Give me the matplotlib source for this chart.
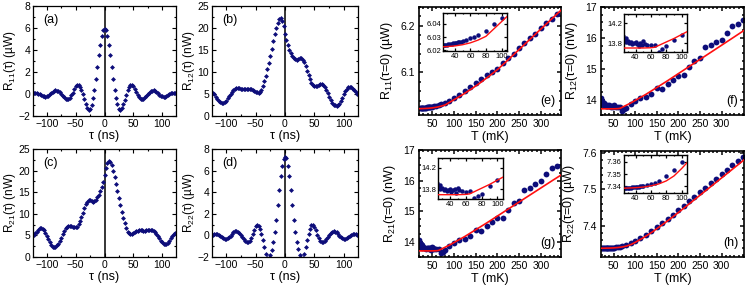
import numpy as np
import matplotlib
matplotlib.use("Agg")
import matplotlib.pyplot as plt
from matplotlib.ticker import MultipleLocator

plt.rcParams['font.family'] = ['Liberation Sans', 'DejaVu Sans']
plt.rcParams['mathtext.fontset'] = 'custom'
plt.rcParams['mathtext.rm'] = 'Liberation Sans'
plt.rcParams['mathtext.it'] = 'Liberation Sans:italic'

# ---------------- data: correlation functions vs tau (ns) ----------------
tau = np.arange(-122.5, 122.6, 2.5)

R11_tau = [0.12, 0.12, 0.09, 0.04, -0.03, -0.1, -0.17, -0.22, -0.24, -0.21, -0.14, -0.04, 0.08, 0.19, 0.28,
           0.32, 0.31, 0.25, 0.14, 0.01, -0.14, -0.29, -0.42, -0.47, -0.44, -0.32, -0.12, 0.13, 0.43, 0.69,
           0.82, 0.8, 0.66, 0.37, -0.03, -0.48, -0.93, -1.28, -1.46, -1.37, -0.98, -0.38, 0.38, 1.33, 2.43,
           3.53, 4.5, 5.28, 5.82,
           5.9,
           5.8, 5.3, 4.5, 3.55, 2.45, 1.35, 0.4, -0.35, -0.95, -1.35, -1.45, -1.3, -0.95, -0.5, -0.05,
           0.35, 0.65, 0.8, 0.82, 0.7, 0.45, 0.15, -0.1, -0.3, -0.43, -0.47, -0.43, -0.3, -0.15, 0.0,
           0.13, 0.24, 0.31, 0.33, 0.3, 0.2, 0.08, -0.05, -0.15, -0.22, -0.25, -0.23, -0.16, -0.07, 0.02,
           0.08, 0.11, 0.12, 0.1]

R12_tau = [5.3, 4.9, 4.4, 3.9, 3.5, 3.2, 3.0, 3.0, 3.2, 3.5, 4.0, 4.5, 5.0, 5.5, 5.9, 6.2, 6.35, 6.4, 6.35,
           6.25, 6.15, 6.1, 6.1, 6.15, 6.2, 6.2, 6.1, 5.95, 5.75, 5.5, 5.35, 5.3, 5.5, 6.0, 6.8, 7.9, 9.2,
           10.6, 12.1, 13.7, 15.3, 17.0, 18.6, 20.0, 21.2, 22.0, 22.2, 21.6, 20.4, 18.7,
           17.3, 16.1, 15.1, 14.3, 13.7, 13.2, 12.9, 12.8, 12.9, 13.1, 13.1, 12.8, 12.2, 11.3, 10.3, 9.3,
           8.4, 7.6, 7.0, 6.8, 6.8, 6.9, 7.1, 7.2, 7.2, 7.0, 6.6, 6.0, 5.2, 4.4, 3.6, 3.0, 2.6, 2.4, 2.3,
           2.4, 2.8, 3.4, 4.1, 4.9, 5.6, 6.2, 6.5, 6.6, 6.5, 6.2, 5.8, 5.4, 5.0]

R21_tau = [5.1, 5.5, 5.9, 6.3, 6.6, 6.7, 6.55, 6.2, 5.6, 4.9, 4.1, 3.4, 2.8, 2.4, 2.3, 2.4, 2.7, 3.1, 3.7,
           4.5, 5.3, 6.0, 6.6, 7.0, 7.15, 7.2, 7.1, 6.95, 6.85, 6.85, 7.05, 7.6, 8.4, 9.3, 10.3, 11.3,
           12.2, 12.8, 13.1, 13.15, 12.95, 12.8, 12.95, 13.3, 13.8, 14.4, 15.2, 16.2, 17.4, 18.9, 20.5,
           21.7, 22.3, 22.0, 21.2, 20.0, 18.5, 16.9, 15.2, 13.6, 12.0, 10.5, 9.1, 7.8, 6.7, 5.9, 5.45,
           5.3, 5.4, 5.6, 5.8, 6.0, 6.1, 6.15, 6.2, 6.15, 6.1, 6.1, 6.2, 6.3, 6.35, 6.35, 6.25, 6.0, 5.7,
           5.25, 4.8, 4.3, 3.8, 3.4, 3.1, 2.95, 3.05, 3.35, 3.8, 4.3, 4.8, 5.3, 5.6]

R22_tau = [0.07, 0.12, 0.14, 0.12, 0.07, -0.02, -0.13, -0.23, -0.29, -0.3, -0.24, -0.14, -0.01, 0.14, 0.28,
           0.37, 0.39, 0.34, 0.24, 0.07, -0.14, -0.36, -0.54, -0.63, -0.61, -0.49, -0.26, 0.09, 0.49, 0.83,
           0.99, 0.91, 0.59, 0.14, -0.46, -1.12, -1.72, -2.07, -2.12, -1.82, -1.31, -0.62, 0.28, 1.43, 2.78,
           4.18, 5.48, 6.43, 7.12,
           7.25,
           7.15, 6.45, 5.5, 4.2, 2.8, 1.45, 0.3, -0.6, -1.3, -1.8, -2.1, -2.05, -1.7, -1.1, -0.45,
           0.15, 0.6, 0.92, 0.98, 0.82, 0.48, 0.08, -0.27, -0.5, -0.62, -0.63, -0.53, -0.35, -0.13, 0.08,
           0.25, 0.35, 0.39, 0.36, 0.27, 0.13, -0.02, -0.15, -0.25, -0.3, -0.29, -0.22, -0.12, -0.01, 0.08,
           0.13, 0.14, 0.11, 0.06]

# ---------------- data: zero-delay correlations vs temperature (mK) ----------------
T_e = [22, 24, 26, 28, 30, 32, 34, 36, 38, 40, 42, 44, 46, 48, 50, 55, 60, 65, 70, 80, 90, 100,
       112, 125, 137, 150, 162, 175, 187, 200, 212, 225, 237, 250, 262, 275, 287, 300, 312, 325, 337]
R11_T = [6.0235, 6.0237, 6.0239, 6.0241, 6.0243, 6.0245, 6.0247, 6.0249, 6.0252, 6.0254, 6.0257, 6.026,
         6.0263, 6.0266, 6.027, 6.0278, 6.029, 6.0302, 6.0318, 6.0345, 6.0395, 6.0445,
         6.052, 6.06, 6.068, 6.077, 6.086, 6.094, 6.101, 6.108, 6.12, 6.13, 6.14, 6.152, 6.162, 6.173,
         6.183, 6.195, 6.206, 6.215, 6.226]
Tfit_e = [20, 30, 40, 50, 60, 70, 80, 90, 100, 120, 140, 160, 180, 200, 220, 240, 260, 280, 300, 320, 346]
R11_fit = [6.0225, 6.0228, 6.0233, 6.0242, 6.0256, 6.0277, 6.0305, 6.036, 6.0415, 6.0525, 6.0645,
           6.0775, 6.0915, 6.106, 6.123, 6.1405, 6.158, 6.1755, 6.193, 6.2105, 6.233]

T_f = [21, 22, 23, 24, 25, 26, 27, 28, 30, 32, 34, 36, 38, 40, 42, 44, 46, 48, 50, 52, 55, 60, 65, 70,
       75, 80, 90, 100, 112, 125, 137, 150, 162, 175, 187, 200, 212, 225, 237, 250, 262, 275, 287, 300,
       312, 325, 337, 349]
R12_T = [14.05, 13.98, 13.92, 13.95, 13.88, 13.85, 13.9, 13.82, 13.84, 13.8, 13.82, 13.78, 13.8, 13.82,
         13.78, 13.75, 13.8, 13.76, 13.84, 13.79, 13.77, 13.76, 13.76, 13.62, 13.68, 13.74, 13.86, 13.96,
         14.06, 14.08, 14.17, 14.36, 14.33, 14.51, 14.64, 14.78, 14.79, 15.05, 15.26, 15.35, 15.69,
         15.77, 15.86, 15.94, 16.17, 16.39, 16.45, 16.57]
Tfit_f = [20, 30, 40, 50, 60, 65, 70, 80, 90, 100, 125, 150, 175, 200, 225, 250, 275, 300, 325, 352]
R12_fit = [13.7, 13.7, 13.7, 13.7, 13.705, 13.715, 13.75, 13.82, 13.89, 13.97, 14.17, 14.39, 14.61,
           14.84, 15.07, 15.3, 15.53, 15.76, 15.99, 16.24]

T_g = [21, 22, 23, 24, 25, 26, 27, 28, 30, 32, 34, 36, 38, 40, 42, 44, 46, 48, 50, 52, 55, 60, 65, 70,
       75, 80, 90, 100, 112, 125, 137, 150, 162, 175, 187, 200, 212, 225, 237, 250, 262, 275, 287, 300,
       312, 325, 337]
R21_T = [14.05, 13.95, 13.9, 13.92, 13.85, 13.82, 13.88, 13.8, 13.83, 13.78, 13.8, 13.76, 13.79, 13.8,
         13.75, 13.78, 13.8, 13.74, 13.82, 13.78, 13.76, 13.75, 13.77, 13.64, 13.67, 13.72, 13.86, 13.97,
         14.07, 14.08, 14.18, 14.38, 14.36, 14.51, 14.65, 14.78, 14.79, 15.05, 15.27, 15.34, 15.68,
         15.77, 15.9, 15.98, 16.22, 16.42, 16.49]
Tfit_g = [20, 30, 40, 50, 60, 65, 70, 80, 90, 100, 125, 150, 175, 200, 225, 250, 275, 300, 325, 346]
R21_fit = [13.7, 13.7, 13.7, 13.7, 13.705, 13.715, 13.75, 13.82, 13.89, 13.97, 14.17, 14.39, 14.61,
           14.84, 15.07, 15.3, 15.53, 15.76, 15.99, 16.18]

T_h = [22, 24, 26, 28, 30, 32, 34, 36, 38, 40, 42, 44, 46, 48, 50, 55, 60, 65, 70, 80, 90, 100,
       112, 125, 137, 150, 162, 175, 187, 200, 212, 225, 237, 250, 262, 275, 287, 300, 312, 325, 337, 349]
R22_T = [7.3385, 7.3386, 7.3387, 7.3388, 7.3389, 7.339, 7.3391, 7.3392, 7.3393, 7.3395, 7.3396, 7.3398,
         7.34, 7.3402, 7.3404, 7.3412, 7.342, 7.3432, 7.3447, 7.3487, 7.3535, 7.3595,
         7.366, 7.376, 7.386, 7.397, 7.408, 7.42, 7.431, 7.444, 7.455, 7.468, 7.48, 7.492, 7.504, 7.517,
         7.529, 7.542, 7.553, 7.566, 7.578, 7.589]
Tfit_h = [20, 30, 40, 50, 60, 70, 80, 90, 100, 120, 140, 160, 180, 200, 220, 240, 260, 280, 300, 320,
          340, 355]
R22_fit = [7.3385, 7.3387, 7.339, 7.3395, 7.3405, 7.342, 7.3445, 7.3485, 7.3545, 7.368, 7.3835, 7.4005,
           7.418, 7.4365, 7.4555, 7.4745, 7.4935, 7.5125, 7.5315, 7.5505, 7.5695, 7.584]

# ---------------- figure ----------------
W, H = 747, 287
fig = plt.figure(figsize=(W / 100, H / 100), dpi=100)
navy = '#0d0d7a'
red = '#ff1010'


def rect(l, t, r, b):
    return [l / W, 1 - b / H, (r - l) / W, (b - t) / H]


def style(ax, fs=7.5, major=3, minor=1.6, lw=0.9, pad=2.5):
    ax.tick_params(which='both', direction='in', top=True, right=True, labelsize=fs, width=lw * 0.9, pad=pad)
    ax.tick_params(which='major', length=major)
    ax.tick_params(which='minor', length=minor)
    for s in ax.spines.values():
        s.set_linewidth(lw)


left_specs = [
    ((33, 6, 176, 116), R11_tau, (-2, 8), 2, 1, r'R$_{\mathrm{11}}$(τ) (µW)', '(a)'),
    ((212, 6, 358, 116), R12_tau, (0, 25), 5, 2.5, r'R$_{\mathrm{12}}$(τ) (nW)', '(b)'),
    ((33, 149, 176, 257), R21_tau, (0, 25), 5, 2.5, r'R$_{\mathrm{21}}$(τ) (nW)', '(c)'),
    ((212, 149, 358, 257), R22_tau, (-2, 8), 2, 1, r'R$_{\mathrm{22}}$(τ) (µW)', '(d)'),
]
for box, vals, ylim, ymaj, ymin, ylab, tag in left_specs:
    ax = fig.add_axes(rect(*box))
    ax.axvline(0, color='black', lw=1.1, zorder=1)
    ax.plot(tau, vals, 'D', color=navy, ms=2.5, mew=0, zorder=2)
    ax.set_xlim(-124, 124)
    ax.set_ylim(*ylim)
    ax.xaxis.set_major_locator(MultipleLocator(50))
    ax.xaxis.set_minor_locator(MultipleLocator(25))
    ax.yaxis.set_major_locator(MultipleLocator(ymaj))
    ax.yaxis.set_minor_locator(MultipleLocator(ymin))
    style(ax, pad=2)
    ax.set_xlabel('τ (ns)', fontsize=9, labelpad=1)
    ax.set_ylabel(ylab, fontsize=8.5, labelpad=0.5)
    ax.text(0.07, 0.87, tag, transform=ax.transAxes, fontsize=9, va='center', ha='left')

right_specs = [
    ((419, 7, 561, 115), T_e, R11_T, Tfit_e, R11_fit, (20, 346), (6.009, 6.24), 0.1, 0.02,
     r'R$_{\mathrm{11}}$(τ=0) (µW)', '(e)', '{:.1f}',
     (443, 13, 507, 51), (6.0195, 6.048), [6.02, 6.03, 6.04], '{:.2f}'),
    ((601, 7, 744, 115), T_f, R12_T, Tfit_f, R12_fit, (21, 352), (13.5, 17.0), 1, 0.25,
     r'R$_{\mathrm{12}}$(τ=0) (nW)', '(f)', '{:.0f}',
     (624, 14, 687, 52), (13.62, 14.38), [13.8, 14.2], '{:.1f}'),
    ((419, 150, 561, 257), T_g, R21_T, Tfit_g, R21_fit, (20, 346), (13.5, 17.0), 1, 0.25,
     r'R$_{\mathrm{21}}$(τ=0) (nW)', '(g)', '{:.0f}',
     (438, 158, 503, 199), (13.62, 14.38), [13.8, 14.2], '{:.1f}'),
    ((601, 151, 744, 257), T_h, R22_T, Tfit_h, R22_fit, (21, 352), (7.3145, 7.6055), 0.1, 0.02,
     r'R$_{\mathrm{22}}$(τ=0) (µW)', '(h)', '{:.1f}',
     (624, 155, 687, 193), (7.3347, 7.3655), [7.34, 7.35, 7.36], '{:.2f}'),
]
for (box, Tx, Ry, Tf, Rf, xlim, ylim, ymaj, ymin, ylab, tag, fmt,
     ibox, iylim, iyt, ifmt) in right_specs:
    ax = fig.add_axes(rect(*box))
    ax.plot(Tx, Ry, 'o', color=navy, ms=4.2, mew=0, zorder=2)
    ax.plot(Tf, Rf, '-', color=red, lw=1.2, zorder=3)
    ax.set_xlim(*xlim)
    ax.set_ylim(*ylim)
    ax.set_xticks([50, 100, 150, 200, 250, 300])
    ax.xaxis.set_minor_locator(MultipleLocator(10))
    ax.yaxis.set_major_locator(MultipleLocator(ymaj))
    ax.yaxis.set_minor_locator(MultipleLocator(ymin))
    ax.yaxis.set_major_formatter(matplotlib.ticker.FuncFormatter(lambda v, p, f=fmt: f.format(v)))
    style(ax, lw=1.2, pad=3)
    ax.set_xlabel('T (mK)', fontsize=9, labelpad=1)
    ax.set_ylabel(ylab, fontsize=9, labelpad=4)
    ax.text(0.96, 0.13, tag, transform=ax.transAxes, fontsize=9, va='center', ha='right')

    ins = fig.add_axes(rect(*ibox))
    ins.plot(Tx, Ry, 'o', color=navy, ms=3.2, mew=0, zorder=2)
    ins.plot(Tf, Rf, '-', color=red, lw=1.0, zorder=3)
    ins.set_xlim(25, 107)
    ins.set_ylim(*iylim)
    ins.set_xticks([40, 60, 80, 100])
    ins.xaxis.set_minor_locator(MultipleLocator(10))
    ins.set_yticks(iyt)
    ins.yaxis.set_major_formatter(matplotlib.ticker.FuncFormatter(lambda v, p, f=ifmt: f.format(v)))
    style(ins, fs=5.5, major=2, minor=1, lw=1.0, pad=1.5)

fig.savefig('out.png', dpi=100)
